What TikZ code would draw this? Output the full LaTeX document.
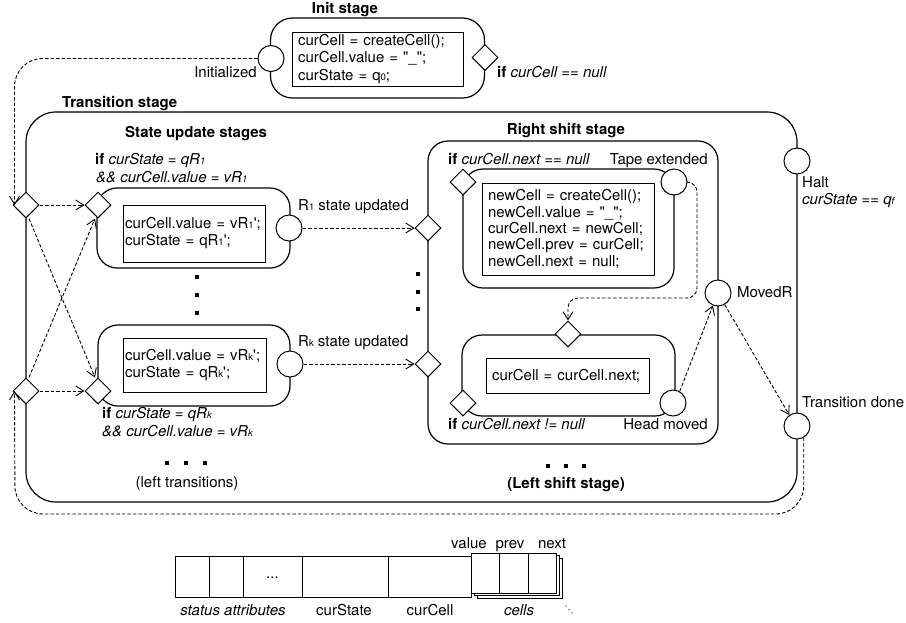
\documentclass[tikz,border=0pt]{standalone}
\usepackage{fontspec}
\newfontfamily\hv{TeX Gyre Heros}
\usetikzlibrary{shapes.geometric,arrows.meta,calc}
\newcommand\smz[1]{{\fontsize{9.5}{9.5}\selectfont #1}}
\begin{document}
\begin{tikzpicture}[x=1pt,y=-1pt,
  font=\hv\fontsize{15}{17}\selectfont,
  stg/.style={draw, line width=1.2pt, rounded corners=20pt, inner sep=0pt},
  code/.style={draw, line width=0.9pt, align=left, inner ysep=0pt},
  circ/.style={draw, circle, line width=1pt, fill=white, minimum size=26pt, inner sep=0pt},
  dia/.style={draw, diamond, line width=1pt, fill=white, minimum size=26pt, inner sep=0pt},
  dl/.style={line width=0.9pt, dash pattern=on 3.5pt off 2pt, -{Straight Barb[length=8pt,width=10pt,line width=0.9pt]}},
  lbl/.style={inner sep=0pt, anchor=base west},
  cellbox/.style={draw, line width=0.9pt, fill=white, inner sep=0pt},
  dotsq/.style={fill=black}]
\useasboundingbox (0,0) rectangle (906,622);

% ---------- stage boxes ----------
\node[stg, rounded corners=22pt, minimum width=214pt, minimum height=80pt] (initbox) at (377.5,58) {};
\node[stg, rounded corners=30pt, minimum width=771pt, minimum height=390pt] (transbox) at (411.5,307) {};
\node[stg, minimum width=193pt, minimum height=80pt] (r1box) at (193.5,228) {};
\node[stg, minimum width=192pt, minimum height=81pt] (rkbox) at (194,365.5) {};
\node[stg, minimum width=290pt, minimum height=303pt] (rsbox) at (573,292.5) {};
\node[stg, minimum width=211pt, minimum height=119pt] (tapebox) at (568.5,228.5) {};
\node[stg, minimum width=213pt, minimum height=81pt] (headbox) at (568.5,375.5) {};

% ---------- code boxes ----------
\node[code, minimum width=171pt, minimum height=54pt, text width=159pt, inner xsep=6pt] (initcode) at (377.5,59)
  {\mbox{curCell = createCell();}\\[0.5pt]\mbox{curCell.value = "\_";}\\[0.5pt]\mbox{curState = q\smz{0};}};
\node[code, minimum width=142pt, minimum height=57pt, text width=138pt, inner xsep=2pt] (r1code) at (194,233.5)
  {\mbox{curCell.value = vR\smz{1}';}\\\mbox{curState = qR\smz{1}';}};
\node[code, minimum width=143pt, minimum height=54pt, text width=139pt, inner xsep=2pt] (rkcode) at (194.5,365)
  {\mbox{curCell.value = vR\smz{k}';}\\\mbox{curState = qR\smz{k}';}};
\node[code, minimum width=172pt, minimum height=92pt, text width=160pt, inner xsep=6pt] (tapecode) at (568,229)
  {\mbox{newCell = createCell();}\\[-0.7pt]\mbox{newCell.value = "\_";}\\[-0.7pt]\mbox{curCell.next = newCell;}\\[-0.7pt]\mbox{newCell.prev = curCell;}\\[-0.7pt]\mbox{newCell.next = null;}};
\node[code, minimum width=163pt, minimum height=35pt, text width=151pt, inner xsep=6pt] (headcode) at (567.5,375.5)
  {\mbox{curCell = curCell.next;}};

% ---------- circles ----------
\node[circ] (initc) at (271,58.5) {};
\node[circ] (r1c) at (289,228) {};
\node[circ] (rkc) at (290,364) {};
\node[circ] (tec) at (674,182) {};
\node[circ] (hmc) at (673,403) {};
\node[circ] (mrc) at (718,293) {};
\node[circ] (haltc) at (797,161) {};
\node[circ] (tdc) at (797,426) {};

% ---------- diamonds ----------
\node[dia] (initd) at (485,57.5) {};
\node[dia] (l1) at (26,205) {};
\node[dia] (r1d) at (98,205) {};
\node[dia] (lk) at (26,391) {};
\node[dia] (rkd) at (98,391) {};
\node[dia] (rs1) at (428,228) {};
\node[dia] (rs2) at (428,364) {};
\node[dia] (taped) at (463,182) {};
\node[dia] (headd) at (568,334) {};
\node[dia] (headl) at (463,403) {};

% ---------- labels ----------
\node[lbl, anchor=base] (tinit) at (345,13.5) {\textbf{Init stage}};
\node[lbl, anchor=base east] (linit) at (257,77) {Initialized};
\node[lbl] (lnull) at (497,77) {\textbf{if} \textit{curCell == null}};
\node[lbl] (ttrans) at (62,107) {\textbf{Transition stage}};
\node[lbl] (tsu) at (125,137) {\textbf{State update stages}};
\node[lbl] (c1a) at (95,164) {\textbf{if} \textit{curState = qR\smz{1}}};
\node[lbl] (c1b) at (96,182) {\textit{\&\& curCell.value = vR\smz{1}}};
\node[lbl] (cka) at (102,418) {\textbf{if} \textit{curState = qR\smz{k}}};
\node[lbl] (ckb) at (102,436) {\textit{\&\& curCell.value = vR\smz{k}}};
\node[lbl] (lr1) at (298,210) {R\smz{1} state updated};
\node[lbl] (lrk) at (298,346) {R\smz{k} state updated};
\node[lbl, anchor=base] (trs) at (566,134) {\textbf{Right shift stage}};
\node[lbl] (ctape) at (448,164) {\textbf{if} \textit{curCell.next == null}};
\node[lbl, anchor=base east] (ltape) at (708,164) {Tape extended};
\node[lbl] (chead) at (448,429) {\textbf{if} \textit{curCell.next != null}};
\node[lbl, anchor=base east] (lhead) at (708,429) {Head moved};
\node[lbl] (lmr) at (737,297) {MovedR};
\node[lbl] (lhalt) at (802,187) {Halt};
\node[lbl] (chalt) at (802,204) {\textit{curState == q\smz{f}}};
\node[lbl] (ltd) at (802,407) {Transition done};
\node[lbl, anchor=base] (llt) at (187,487) {(left transitions)};
\node[lbl, anchor=base] (lls) at (566,488) {\textbf{(Left shift stage)}};

% ---------- dots ----------
\foreach \px/\py in {197/277, 197/295, 197/313, 418/274, 418/292, 418/309,
                     167/463, 186/463, 205/463, 548/466, 566/466, 584/466}
  \fill[dotsq] (\px-1.6,\py-1.6) rectangle (\px+1.6,\py+1.6);

% ---------- connectors ----------
\coordinate (botl) at (15,514);
\coordinate (tbend) at (697,298);
\draw[dl, rounded corners=28pt] (initc.west) -| ([xshift=2pt]l1.west);
\draw[dl, rounded corners=28pt] (tdc.-60) |- (botl) -- ([xshift=2pt]lk.west);
\draw[dl] (l1.east) -- (r1d.west);
\draw[dl] (lk.east) -- (rkd.west);
\draw[dl] ([xshift=3pt]l1.south) -- ([xshift=-3pt]rkd.north);
\draw[dl] ([xshift=3pt]lk.north) -- ([xshift=-3pt]r1d.south);
\draw[dl] (r1c.east) -- (rs1.west);
\draw[dl] (rkc.east) -- (rs2.west);
\draw[dl, rounded corners=10pt] (tec.east) -| (tbend) -| (headd.north);
\draw[dl] (hmc.60) -- (mrc.-112);
\draw[dl] (mrc.-60) -- (tdc.125);

% ---------- data structure ----------
\node[cellbox, minimum width=34pt, minimum height=41pt] (sa1) at (192,576.5) {};
\node[cellbox, minimum width=34pt, minimum height=41pt] (sa2) at (226,576.5) {};
\node[cellbox, minimum width=59pt, minimum height=41pt] (sa3) at (272.5,576.5) {\raisebox{-3pt}{...}};
\node[cellbox, minimum width=86pt, minimum height=41pt] (cs) at (345,576.5) {};
\node[cellbox, minimum width=83pt, minimum height=41pt] (cc) at (429.5,576.5) {};
\draw[line width=0.8pt, fill=white] (477,558) rectangle (562,598);
\draw[line width=0.8pt, fill=white] (474,555.5) rectangle (559,595.5);
\node[cellbox, minimum width=28pt, minimum height=40pt] (cv) at (485,573) {};
\node[cellbox, minimum width=29pt, minimum height=40pt] (cp) at (513.5,573) {};
\node[cellbox, minimum width=28pt, minimum height=40pt] (cn) at (542,573) {};
\foreach \px/\py in {566/606, 569/609.5, 572/613}
  \fill (\px,\py) circle (0.6);
\node[lbl, anchor=base] (lval) at (469,548) {value};
\node[lbl, anchor=base] (lprev) at (510,548) {prev};
\node[lbl, anchor=base] (lnext) at (552,548) {next};
\node[lbl, anchor=base] (lsa) at (233,615) {\textit{status attributes}};
\node[lbl, anchor=base] (lcs) at (344,615) {curState};
\node[lbl, anchor=base] (lcc) at (430,615) {curCell};
\node[lbl, anchor=base] (lcells) at (519,615) {\textit{cells}};
\end{tikzpicture}
\end{document}
